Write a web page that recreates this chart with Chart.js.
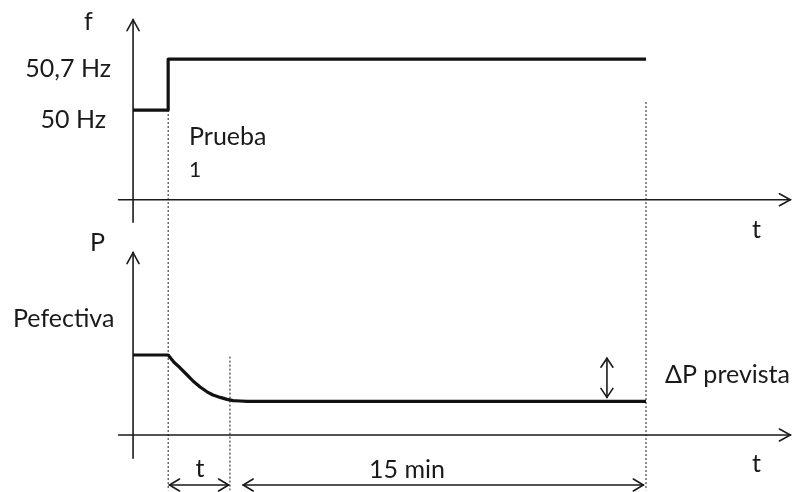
<!DOCTYPE html>
<html>
<head>
<meta charset="utf-8">
<script src="https://cdn.jsdelivr.net/npm/chart.js@4/dist/chart.umd.min.js"></script>
<style>
  html, body { margin: 0; padding: 0; background: #fff; }
  #wrap { width: 792px; height: 492px; }
</style>
</head>
<body>
<div id="wrap"><canvas id="diagram" width="792" height="492"></canvas></div>
<script>
// frequency step (top panel)
const fTime = [0, 1.33, 1.33, 19.43];
const fValues = [50, 50, 50.7, 50.7];
const fTickValues = [50, 50.7];
const fTickLabels = ['50 Hz', '50,7 Hz'];

// active power response (bottom panel), P in p.u. of Pefectiva
const pTime = [0, 1.33, 1.55, 1.78, 2.05, 2.27, 2.54, 2.80, 3.03, 3.30, 3.56, 3.79, 4.05, 4.32, 19.43];
const pValues = [1, 1, 0.91, 0.84, 0.75, 0.675, 0.60, 0.54, 0.50, 0.47, 0.445, 0.43, 0.425, 0.42, 0.42];

// marker times: test start, response time, end of 15 min
const markTimes = [1.33, 3.67, 19.43];
const spanLabels = ['t', '15 min'];

document.addEventListener('DOMContentLoaded', () => {
  const canvas = document.getElementById('diagram');
  const font = (size) => size + 'px Lato, "Open Sans", sans-serif';

  function arrowHead(ctx, x, y, angle, len, half) {
    ctx.save();
    ctx.translate(x, y);
    ctx.rotate(angle);
    ctx.beginPath();
    ctx.moveTo(-len, -half);
    ctx.lineTo(0, 0);
    ctx.lineTo(-len, half);
    ctx.stroke();
    ctx.restore();
  }

  function line(ctx, x1, y1, x2, y2) {
    ctx.beginPath();
    ctx.moveTo(x1, y1);
    ctx.lineTo(x2, y2);
    ctx.stroke();
  }

  const sketch = {
    id: 'sketch',
    beforeDatasetsDraw(chart) {
      const { ctx, scales: { x, yF, yP } } = chart;
      ctx.save();
      ctx.strokeStyle = '#1a1a1a';
      ctx.lineWidth = 1.6;
      ctx.lineCap = 'round';

      // top panel axes
      const ox = x.getPixelForValue(0);
      const fAxisY = yF.getPixelForValue(48.77);
      line(ctx, ox, yF.getPixelForValue(48.46), ox, yF.getPixelForValue(51.24));
      arrowHead(ctx, ox, yF.getPixelForValue(51.24), -Math.PI / 2, 11, 6);
      line(ctx, x.getPixelForValue(-0.55), fAxisY, x.getPixelForValue(24.9), fAxisY);
      arrowHead(ctx, x.getPixelForValue(24.9), fAxisY, 0, 11, 6);

      // bottom panel axes
      const pAxisY = yP.getPixelForValue(0);
      line(ctx, ox, yP.getPixelForValue(-0.29), ox, yP.getPixelForValue(2.28));
      arrowHead(ctx, ox, yP.getPixelForValue(2.28), -Math.PI / 2, 11, 6);
      line(ctx, x.getPixelForValue(-0.55), pAxisY, x.getPixelForValue(24.9), pAxisY);
      arrowHead(ctx, x.getPixelForValue(24.9), pAxisY, 0, 11, 6);

      // dotted guides
      ctx.lineWidth = 1;
      ctx.setLineDash([2, 2]);
      ctx.lineCap = 'butt';
      const bottom = yP.getPixelForValue(-0.69);
      line(ctx, x.getPixelForValue(markTimes[0]), yF.getPixelForValue(50), x.getPixelForValue(markTimes[0]), bottom);
      line(ctx, x.getPixelForValue(markTimes[1]), yP.getPixelForValue(0.98), x.getPixelForValue(markTimes[1]), bottom);
      line(ctx, x.getPixelForValue(markTimes[2]), yF.getPixelForValue(50.11), x.getPixelForValue(markTimes[2]), bottom);
      ctx.restore();
    },
    afterDatasetsDraw(chart) {
      const { ctx, scales: { x, yF, yP } } = chart;
      ctx.save();
      ctx.strokeStyle = '#1a1a1a';
      ctx.fillStyle = '#1a1a1a';
      ctx.lineWidth = 1.6;
      ctx.lineCap = 'round';

      // delta P arrow
      const dx = x.getPixelForValue(17.95);
      const dTop = yP.getPixelForValue(0.96), dBot = yP.getPixelForValue(0.47);
      line(ctx, dx, dTop, dx, dBot);
      arrowHead(ctx, dx, dTop, -Math.PI / 2, 9, 6);
      arrowHead(ctx, dx, dBot, Math.PI / 2, 9, 6);

      // time span arrows under the axis
      const ay = yP.getPixelForValue(-0.625);
      const spans = [[markTimes[0] + 0.05, markTimes[1] - 0.05], [4.17, markTimes[2] - 0.1]];
      spans.forEach(([a, b]) => {
        const xa = x.getPixelForValue(a), xb = x.getPixelForValue(b);
        line(ctx, xa, ay, xb, ay);
        arrowHead(ctx, xa, ay, Math.PI, 10, 6);
        arrowHead(ctx, xb, ay, 0, 10, 6);
      });

      // texts
      ctx.font = font(25);
      ctx.textBaseline = 'alphabetic';
      ctx.textAlign = 'right';
      fTickValues.forEach((v, i) => {
        ctx.fillText(fTickLabels[i], i === 0 ? 106 : 111, yF.getPixelForValue(v) + 18);
      });
      ctx.textAlign = 'left';
      ctx.fillText('f', 84, 30);
      ctx.fillText('P', 90, 251);
      ctx.fillText('Pefectiva', 13, 327);
      ctx.fillText('Prueba', 189, 145);
      ctx.fillText('\u0394P prevista', 665, 383);
      ctx.fillText('t', 752, 238);
      ctx.fillText('t', 752, 472);
      ctx.textAlign = 'center';
      ctx.fillText(spanLabels[0], (x.getPixelForValue(markTimes[0]) + x.getPixelForValue(markTimes[1])) / 2 + 1, 477);
      ctx.fillText(spanLabels[1], 407, 478);
      ctx.font = font(21);
      ctx.textAlign = 'left';
      ctx.fillText('1', 189, 177);
      ctx.restore();
    }
  };

  new Chart(canvas.getContext('2d'), {
    type: 'line',
    data: {
      datasets: [
        {
          label: 'f',
          data: fTime.map((t, i) => ({ x: t, y: fValues[i] })),
          yAxisID: 'yF',
          borderColor: '#111',
          borderWidth: 3.2,
          borderJoinStyle: 'round',
          pointRadius: 0,
          tension: 0
        },
        {
          label: 'P',
          data: pTime.map((t, i) => ({ x: t, y: pValues[i] })),
          yAxisID: 'yP',
          borderColor: '#111',
          borderWidth: 3.2,
          borderJoinStyle: 'round',
          pointRadius: 0,
          tension: 0
        }
      ]
    },
    options: {
      responsive: false,
      animation: false,
      layout: { padding: 0 },
      plugins: { legend: { display: false }, tooltip: { enabled: false } },
      scales: {
        x: { type: 'linear', min: -5.04, max: 24.96, display: false },
        yF: { type: 'linear', min: 44.76, max: 51.51, display: false },
        yP: { type: 'linear', min: -0.7125, max: 5.4375, display: false }
      }
    },
    plugins: [sketch]
  });
});
</script>
</body>
</html>
